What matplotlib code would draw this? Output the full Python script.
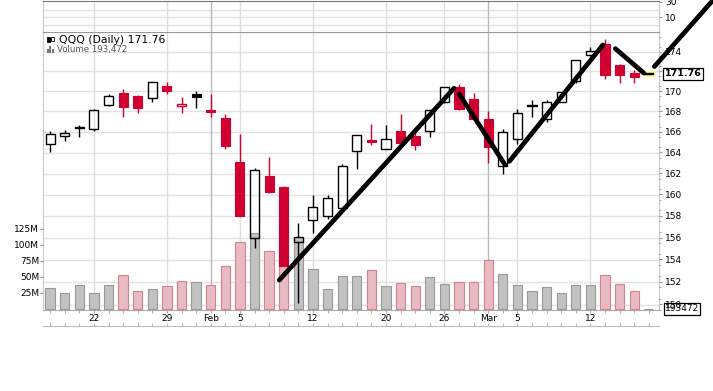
import matplotlib
matplotlib.use('Agg')
import matplotlib.pyplot as plt
from matplotlib.patches import Rectangle
from matplotlib.ticker import NullFormatter
import pandas as pd

plt.rcParams['font.family'] = ['DejaVu Sans']

# QQQ daily, 17 Jan - 16 Mar 2018 (log price scale)
dates = ['2018-01-17', '2018-01-18', '2018-01-19', '2018-01-22', '2018-01-23', '2018-01-24',
         '2018-01-25', '2018-01-26', '2018-01-29', '2018-01-30', '2018-01-31', '2018-02-01',
         '2018-02-02', '2018-02-05', '2018-02-06', '2018-02-07', '2018-02-08', '2018-02-09',
         '2018-02-12', '2018-02-13', '2018-02-14', '2018-02-15', '2018-02-16', '2018-02-20',
         '2018-02-21', '2018-02-22', '2018-02-23', '2018-02-26', '2018-02-27', '2018-02-28',
         '2018-03-01', '2018-03-02', '2018-03-05', '2018-03-06', '2018-03-07', '2018-03-08',
         '2018-03-09', '2018-03-12', '2018-03-13', '2018-03-14', '2018-03-15', '2018-03-16']
opens = [164.8, 165.6, 166.35, 166.24, 168.63, 169.83, 169.54, 169.31, 170.52, 168.49, 169.71, 168.17,
         167.38, 163.1, 155.99, 161.78, 160.74, 155.59, 157.63, 158.01, 158.75, 164.12, 165.20, 164.37,
         166.11, 165.62, 166.08, 168.88, 170.45, 169.22, 167.28, 162.66, 165.29, 168.55, 167.25, 168.95,
         171.06, 173.62, 174.78, 172.67, 171.81, 171.70]
highs = [166.1, 166.2, 166.7, 168.2, 169.74, 170.2, 169.64, 170.88, 170.91, 169.41, 170.03, 169.7,
         167.77, 165.81, 162.5, 163.58, 160.82, 157.3, 159.95, 159.95, 162.85, 165.69, 166.79, 166.70,
         167.75, 166.43, 168.17, 170.40, 170.72, 169.80, 168.07, 166.30, 168.26, 169.15, 169.15, 169.90,
         173.12, 174.5, 175.26, 172.71, 172.13, 171.86]
lows = [164.0, 165.1, 165.45, 166.04, 168.5, 167.4, 167.8, 168.9, 169.67, 167.8, 168.3, 167.45,
        164.34, 157.96, 155.05, 160.1, 153.42, 150.14, 156.41, 157.69, 158.53, 162.36, 164.67, 164.31,
        164.60, 164.27, 165.45, 168.80, 168.10, 167.10, 162.98, 161.96, 164.80, 167.41, 166.92, 168.88,
        170.78, 173.55, 171.24, 170.84, 170.84, 171.62]
closes = [165.75, 165.85, 166.4, 168.14, 169.51, 168.39, 168.29, 170.88, 170.06, 168.73, 169.37, 167.90,
          164.57, 158.03, 162.31, 160.2, 153.42, 156.08, 158.84, 159.71, 162.7, 165.69, 164.96, 165.29,
          164.90, 164.75, 168.17, 170.39, 168.26, 167.25, 164.49, 165.98, 167.84, 168.65, 168.92, 169.90,
          173.12, 174.03, 171.67, 171.63, 171.40, 171.76]
volumes = [32.8, 25.0, 37.5, 25.0, 37.5, 52.6, 27.6, 31.2, 35.9, 43.7, 42.2, 37.5,
           67.2, 104.7, 118.0, 90.6, 95.0, 112.0, 62.0, 30.7, 51.0, 51.0, 60.4, 35.4,
           40.1, 35.4, 49.5, 38.6, 41.7, 41.7, 76.0, 55.2, 37.0, 27.6, 33.9, 24.5,
           37.0, 37.0, 53.6, 38.6, 27.6, 0.193472]

# hand drawn strokes on top of the chart (day index, price)
stroke_x = [[15.69, 27.66], [28.02, 31.15], [31.45, 37.86], [38.71, 40.66], [41.38, 45.4]]
stroke_y = [[152.15, 170.29], [169.71, 162.81], [163.13, 174.68], [174.3, 171.82], [172.47, 179.34]]

vol_ticks = [25, 50, 75, 100, 125]
price_ticks = list(range(150, 176, 2))
hidden_price_labels = [172]   # covered by the last-price tag

RED = '#d00030'
W, H = 713, 391


def box(x0, y0, x1, y1):
    return [x0 / W, 1 - y1 / H, (x1 - x0) / W, (y1 - y0) / H]


d = pd.to_datetime(dates)
n = len(d)
idx = list(range(n))

# date labels: month name on first day of a month, day number at start of a week
lab_pos, lab_txt, lab_bold = [], [], []
for i in range(1, n):
    if d[i].month != d[i - 1].month:
        lab_pos.append(i); lab_txt.append(d[i].strftime('%b')); lab_bold.append(True)
    elif d[i].weekday() < d[i - 1].weekday():
        lab_pos.append(i); lab_txt.append(str(d[i].day)); lab_bold.append(False)

fig = plt.figure(figsize=(W / 100, H / 100), dpi=100)

xlim = (-0.47, 41.72)
plim = (149.55, 175.98)

# ---- top (cut off) indicator panel
ax_top = fig.add_axes(box(43.3, 1, 659.3, 32.3))
ax_top.set_xlim(xlim)
ax_top.set_ylim(-10.2, 31.3)
for y in [0, 10, 20]:
    ax_top.axhline(y, color='#e2e2e2', lw=1)
for p, b in zip(lab_pos, lab_bold):
    ax_top.axvline(p, color='#b8b8b8' if b else '#dedede', lw=1)
ax_top.yaxis.tick_right()
ax_top.set_yticks([10, 30])
ax_top.set_yticklabels(['10', '30'], fontsize=6.5)
ax_top.tick_params(axis='y', length=2, pad=2, colors='#999999', labelcolor='black')
ax_top.set_xticks([])
ax_top.spines['top'].set_color('#777777')
ax_top.spines['bottom'].set_visible(False)
for s in ['left', 'right']:
    ax_top.spines[s].set_color('#c8c8c8')

# ---- grid layer (price coords)
axg = fig.add_axes(box(43.3, 32.3, 659.3, 310))
axg.set_yscale('log')
axg.set_xlim(xlim)
axg.set_ylim(plim)
for p in price_ticks:
    axg.axhline(p, color='#e2e2e2', lw=1)
for p, b in zip(lab_pos, lab_bold):
    axg.axvline(p, color='#b8b8b8' if b else '#dedede', lw=1)
axg.set_yticks([])
axg.set_yticks([], minor=True)
axg.set_xticks(idx, minor=True)
axg.set_xticks(lab_pos)
axg.set_xticklabels(lab_txt, fontsize=6.5)
for t, b in zip(axg.get_xticklabels(), lab_bold):
    if b:
        t.set_fontweight('bold')
        t.set_fontsize(7.5)
axg.tick_params(axis='x', which='both', length=2, pad=1, colors='#aaaaaa', labelcolor='black')
axg.spines['top'].set_color('#999999')
axg.spines['bottom'].set_color('#aaaaaa')
for s in ['left', 'right']:
    axg.spines[s].set_color('#c8c8c8')

# ---- volume layer
axv = fig.add_axes(box(43.3, 32.3, 659.3, 310), sharex=axg)
axv.patch.set_visible(False)
axv.set_ylim(-1.56, 432.3)
vcol, vedge = [], []
for i in idx:
    down = i > 0 and closes[i] < closes[i - 1]
    vcol.append('#e8bac2' if down else '#c2c2c2')
    vedge.append('#d9808f' if down else '#999999')
axv.bar(idx, volumes, width=0.64, color=vcol, edgecolor=vedge, linewidth=0.8)
axv.set_yticks(vol_ticks)
axv.set_yticklabels([f'{v}M' for v in vol_ticks], fontsize=6.5)
axv.tick_params(axis='y', length=2, pad=1, colors='#999999', labelcolor='black')
axv.tick_params(axis='x', which='both', bottom=False, labelbottom=False)
for s in axv.spines.values():
    s.set_visible(False)

# ---- price layer
ax = fig.add_axes(box(43.3, 32.3, 659.3, 310), sharex=axg)
ax.patch.set_visible(False)
ax.set_yscale('log')
ax.set_ylim(plim)
bw = 0.62
for i in idx:
    o, h, l, c = opens[i], highs[i], lows[i], closes[i]
    col = RED if (i > 0 and c < closes[i - 1]) else 'black'
    lo, hi = min(o, c), max(o, c)
    hgt = max(hi - lo, 0.08)
    if c >= o:
        ax.vlines(i, l, lo, color=col, lw=1)
        ax.vlines(i, lo + hgt, h, color=col, lw=1)
        ax.add_patch(Rectangle((i - bw / 2, lo), bw, hgt, fill=False, edgecolor=col, lw=1, zorder=3))
    else:
        ax.vlines(i, l, h, color=col, lw=1)
        ax.add_patch(Rectangle((i - bw / 2, lo), bw, hgt, facecolor=col, edgecolor=col, lw=0.8, zorder=3))

# last price highlight
ax.add_patch(Rectangle((n - 1 - 0.42, closes[-1] - 0.31), 0.82, 0.62, facecolor='#ffff80',
                       edgecolor='none', zorder=2))

for xs, ys in zip(stroke_x, stroke_y):
    ax.plot(xs, ys, color='black', lw=3.4, solid_capstyle='round', clip_on=False, zorder=10)

ax.yaxis.tick_right()
ax.set_yticks(price_ticks)
ax.set_yticklabels(['' if p in hidden_price_labels else str(p) for p in price_ticks], fontsize=6.5)
ax.set_yticks([p + 0.5 for p in range(149, 176)], minor=True)
ax.yaxis.set_minor_formatter(NullFormatter())
ax.tick_params(axis='y', which='both', length=2, pad=2, colors='#999999', labelcolor='black')
ax.tick_params(axis='y', which='minor', length=1.5)
ax.tick_params(axis='x', which='both', bottom=False, labelbottom=False)
for s in ax.spines.values():
    s.set_visible(False)

ax.annotate(f'{closes[-1]:.2f}', xy=(1, closes[-1]), xycoords=('axes fraction', 'data'),
            xytext=(4, 0), textcoords='offset points', va='center', ha='left',
            fontsize=6.8, fontweight='bold', zorder=12, annotation_clip=False,
            bbox=dict(boxstyle='square,pad=0.15', fc='white', ec='black', lw=0.9))
axv.annotate(f'{volumes[-1] * 1e6:.0f}', xy=(1, volumes[-1]), xycoords=('axes fraction', 'data'),
             xytext=(4, 0), textcoords='offset points', va='center', ha='left',
             fontsize=6.5, zorder=12, annotation_clip=False,
             bbox=dict(boxstyle='square,pad=0.15', fc='white', ec='black', lw=0.9))

# ---- lower navigator line
axn = fig.add_axes(box(43.3, 324, 659.3, 325.5), sharex=axg)
axn.patch.set_visible(False)
axn.set_yticks([])
axn.set_xticks(idx)
axn.tick_params(axis='x', direction='in', length=2, colors='#bbbbbb', labelbottom=False)
for s in ['top', 'left', 'right']:
    axn.spines[s].set_visible(False)
axn.spines['bottom'].set_color('#bbbbbb')

# ---- legend
fig.text(58.7 / W, 1 - 39.7 / H, f'QQQ (Daily) {closes[-1]:.2f}', fontsize=7.8, va='center', ha='left')
fig.text(56.7 / W, 1 - 49.7 / H, f'Volume {volumes[-1] * 1e6:,.0f}', fontsize=6.2, va='center',
         ha='left', color='#555555')
fig.add_artist(Rectangle((46.5 / W, 1 - 42 / H), 3 / W, 5 / H, transform=fig.transFigure,
                         facecolor='black', edgecolor='black', lw=0.6))
fig.add_artist(Rectangle((51 / W, 1 - 41 / H), 3 / W, 4 / H, transform=fig.transFigure,
                         facecolor='white', edgecolor='black', lw=0.6))
for bx, bh in [(46.5, 4), (49, 6), (51.5, 3)]:
    fig.add_artist(Rectangle((bx / W, 1 - 52.5 / H), 2 / W, bh / H, transform=fig.transFigure,
                             facecolor='#777777', edgecolor='none'))

fig.savefig('out.png', dpi=100)
